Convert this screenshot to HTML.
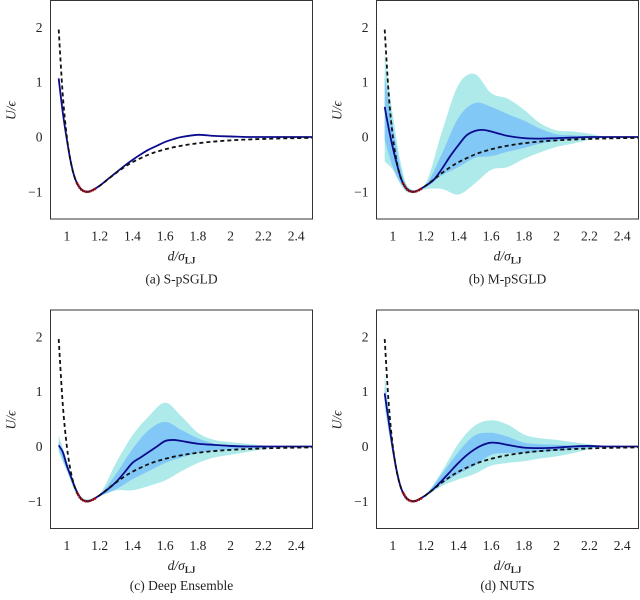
<!DOCTYPE html>
<html><head><meta charset="utf-8"><style>
html,body{margin:0;padding:0;background:#fff;}
svg text{font-family:"Liberation Serif",serif;fill:#222;}
</style></head><body>
<svg id="fig" width="640" height="595" viewBox="0 0 640 595" xmlns="http://www.w3.org/2000/svg"></svg>
<script>
const LX=[0.95,0.975,1.0,1.025,1.05,1.075,1.1,1.125,1.15,1.2,1.25,1.3,1.35,1.4,1.5,1.6,1.7,1.8,1.9,2.0,2.1,2.2,2.3,2.4,2.5];
const LY=[1.961,0.765,0,-0.475,-0.758,-0.912,-0.984,-1.0,-0.982,-0.891,-0.774,-0.657,-0.552,-0.461,-0.320,-0.224,-0.159,-0.114,-0.083,-0.0615,-0.046,-0.035,-0.027,-0.021,-0.016];
const RX=[1.06,1.08,1.1,1.12,1.14,1.16,1.18];
const RY=[-0.832,-0.932,-0.984,-1.0,-0.992,-0.968,-0.933];
const MG=[0.95,0.975,1.0,1.025,1.05,1.075,1.1,1.125,1.15,1.2,1.25,1.3,1.35,1.4,1.45,1.5,1.55,1.6,1.65,1.7,1.8,1.9,2.0,2.1,2.2,2.3,2.5];
const meanA=[1.07,0.45,-0.05,-0.47,-0.76,-0.91,-0.98,-1.0,-0.98,-0.89,-0.77,-0.65,-0.53,-0.42,-0.32,-0.23,-0.16,-0.09,-0.04,0.0,0.04,0.02,0.01,0,0,0,0];
const meanB=[0.55,0.15,-0.2,-0.5,-0.76,-0.91,-0.98,-1.0,-0.98,-0.89,-0.78,-0.58,-0.35,-0.15,0.03,0.11,0.13,0.1,0.06,0.02,-0.02,-0.03,-0.02,-0.01,0,0,0];
const meanC=[0.02,-0.1,-0.35,-0.55,-0.75,-0.9,-0.98,-1.0,-0.98,-0.89,-0.78,-0.65,-0.48,-0.3,-0.2,-0.1,0.0,0.1,0.12,0.1,0.05,0.03,0.01,0,0,0,0];
const meanD=[0.97,0.45,-0.05,-0.47,-0.76,-0.91,-0.98,-1.0,-0.98,-0.89,-0.77,-0.62,-0.46,-0.3,-0.16,-0.05,0.03,0.07,0.06,0.03,-0.02,-0.03,-0.02,0,0.01,0,0];
const BG=[0.95,1.0,1.05,1.1,1.2,1.3,1.4,1.5,1.6,1.7,1.8,1.9,2.0,2.1,2.2,2.3,2.5];
const bOutU=[1.5,0.4,-0.5,-0.93,-0.85,0.1,0.95,1.15,0.8,0.7,0.5,0.25,0.12,0.1,0.06,0.01,0];
const bOutL=[-0.45,-0.6,-0.88,-1.02,-0.95,-0.95,-1.05,-0.85,-0.6,-0.55,-0.4,-0.28,-0.18,-0.12,-0.05,-0.01,0];
const bInU=[1.1,0.2,-0.6,-0.95,-0.88,-0.3,0.35,0.62,0.55,0.42,0.3,0.15,0.05,0.03,0.01,0,0];
const bInL=[-0.05,-0.55,-0.85,-1.0,-0.92,-0.7,-0.55,-0.38,-0.35,-0.27,-0.2,-0.12,-0.07,-0.04,-0.02,0,0];
const cOutU=[0.2,-0.25,-0.7,-0.95,-0.87,-0.3,0.2,0.55,0.8,0.55,0.25,0.12,0.08,0.05,0.02,0,0];
const cOutL=[-0.1,-0.45,-0.82,-1.0,-0.91,-0.8,-0.8,-0.72,-0.62,-0.45,-0.3,-0.2,-0.15,-0.1,-0.05,0,0];
const cInU=[0.1,-0.3,-0.74,-0.97,-0.88,-0.5,-0.05,0.3,0.45,0.3,0.15,0.05,0.03,0.02,0.01,0,0];
const cInL=[-0.05,-0.42,-0.8,-0.99,-0.9,-0.78,-0.6,-0.45,-0.3,-0.2,-0.12,-0.08,-0.05,-0.03,-0.02,0,0];
const dOutU=[1.35,0.1,-0.7,-0.97,-0.87,-0.45,0.05,0.38,0.48,0.4,0.22,0.15,0.12,0.08,0.04,0,0];
const dOutL=[0.7,-0.15,-0.8,-1.0,-0.9,-0.72,-0.6,-0.5,-0.35,-0.3,-0.27,-0.22,-0.18,-0.12,-0.05,0,0];
const dInU=[1.1,0.0,-0.74,-0.98,-0.88,-0.5,-0.1,0.2,0.25,0.18,0.07,0.04,0.03,0.02,0.02,0,0];
const dInL=[0.85,-0.1,-0.78,-0.99,-0.89,-0.68,-0.5,-0.35,-0.15,-0.12,-0.12,-0.1,-0.08,-0.05,-0.03,0,0];
const xTicks=[1,1.2,1.4,1.6,1.8,2,2.2,2.4];
const xTickLabels=["1","1.2","1.4","1.6","1.8","2","2.2","2.4"];
const yTicks=[2,1,0,-1];
const yTickLabels=["2","1","0","\u22121"];

const NS="http://www.w3.org/2000/svg";
const svg=document.getElementById('fig');
function mk(tag,attrs,parent){const e=document.createElementNS(NS,tag);for(const k in attrs)e.setAttribute(k,attrs[k]);(parent||svg).appendChild(e);return e;}
function smooth(pts){let d="M"+pts[0][0].toFixed(2)+","+pts[0][1].toFixed(2);
 for(let i=0;i<pts.length-1;i++){const p0=pts[Math.max(0,i-1)],p1=pts[i],p2=pts[i+1],p3=pts[Math.min(pts.length-1,i+2)];
  const c1=[p1[0]+(p2[0]-p0[0])/6,p1[1]+(p2[1]-p0[1])/6],c2=[p2[0]-(p3[0]-p1[0])/6,p2[1]-(p3[1]-p1[1])/6];
  d+="C"+c1[0].toFixed(2)+","+c1[1].toFixed(2)+" "+c2[0].toFixed(2)+","+c2[1].toFixed(2)+" "+p2[0].toFixed(2)+","+p2[1].toFixed(2);}
 return d;}
function band(g,xs,up,lo,sx,sy,fill,name){
 const u=xs.map((x,i)=>[sx(x),sy(up[i])]);const l=xs.map((x,i)=>[sx(x),sy(lo[i])]).reverse();
 const d=smooth(u)+"L"+l[0][0]+","+l[0][1]+smooth(l).slice(1).replace(/^[^C]*/,"")+"Z";
 const p=mk('path',{d:d,fill:fill,stroke:'none'},g);
 
 }
const panels=[
 {id:'a',L:50.5,T:0.5,cap:'(a) S-pSGLD',mean:meanA,capY:283},
 {id:'b',L:376.5,T:0.5,cap:'(b) M-pSGLD',mean:meanB,oU:bOutU,oL:bOutL,iU:bInU,iL:bInL,capY:283},
 {id:'c',L:50.5,T:310,cap:'(c) Deep Ensemble',mean:meanC,oU:cOutU,oL:cOutL,iU:cInU,iL:cInL,capY:280},
 {id:'d',L:376.5,T:310,cap:'(d) NUTS',mean:meanD,oU:dOutU,oL:dOutL,iU:dInU,iL:dInL,capY:280}];
panels.forEach(P=>{
 const W=262,H=218.5;
 const sx=x=>P.L+(x-0.9)/1.6*W;
 const y0=P.T+136.5, k=54.8;
 const sy=y=>y0-y*k;
 const g=mk('g',{});
 
 
 const cid='clip'+P.id;
 const cp=mk('clipPath',{id:cid},g);mk('rect',{x:P.L,y:P.T,width:W,height:H},cp);
 const pg=mk('g',{'clip-path':'url(#'+cid+')'},g);
 if(P.oU){band(pg,BG,P.oU,P.oL,sx,sy,'#aeeaea','outer-band-'+P.id);band(pg,BG,P.iU,P.iL,sx,sy,'#82c8f6','inner-band-'+P.id);}
 const m=mk('path',{d:smooth(MG.map((x,i)=>[sx(x),sy(P.mean[i])])),fill:'none',stroke:'#0b0b8e','stroke-width':1.8},pg);
 
 
 const lj=mk('path',{d:smooth(LX.map((x,i)=>[sx(x),sy(LY[i])])),fill:'none',stroke:'#111','stroke-width':1.8,'stroke-dasharray':'4,3'},pg);
 
 
 const rd=mk('path',{d:smooth(RX.map((x,i)=>[sx(x),sy(RY[i])])),fill:'none',stroke:'#b01010','stroke-width':2.6,'stroke-dasharray':'1.5,1'},pg);
 
 
 const fr=mk('rect',{x:P.L,y:P.T,width:W,height:H,fill:'none',stroke:'#333','stroke-width':1},g);
 
 
 xTicks.forEach((v,i)=>{const t=mk('text',{x:sx(v),y:P.T+240,'text-anchor':'middle','font-size':13.5},g);t.textContent=xTickLabels[i];
  
  });
 yTicks.forEach((v,i)=>{const t=mk('text',{x:P.L-8,y:sy(v)+4.5,'text-anchor':'end','font-size':13.5},g);t.textContent=yTickLabels[i];
  
  });
 const xt=mk('text',{x:P.L+W/2,y:P.T+260,'text-anchor':'middle','font-size':13.5,'font-style':'italic'},g);
 xt.innerHTML='d/σ<tspan font-size="9" font-style="normal" font-weight="bold" dy="3">LJ</tspan>';
 
 
 const yt=mk('text',{x:0,y:0,'text-anchor':'middle','font-size':13.5,'font-style':'italic',transform:'translate('+(P.L-35)+','+(P.T+110)+') rotate(-90)'},g);
 yt.textContent='U/ϵ';
 
 
 const cap=mk('text',{x:P.L+W/2,y:P.T+P.capY,'text-anchor':'middle','font-size':13.5},g);
 cap.textContent=P.cap;
 
 
});
</script>
</body></html>
